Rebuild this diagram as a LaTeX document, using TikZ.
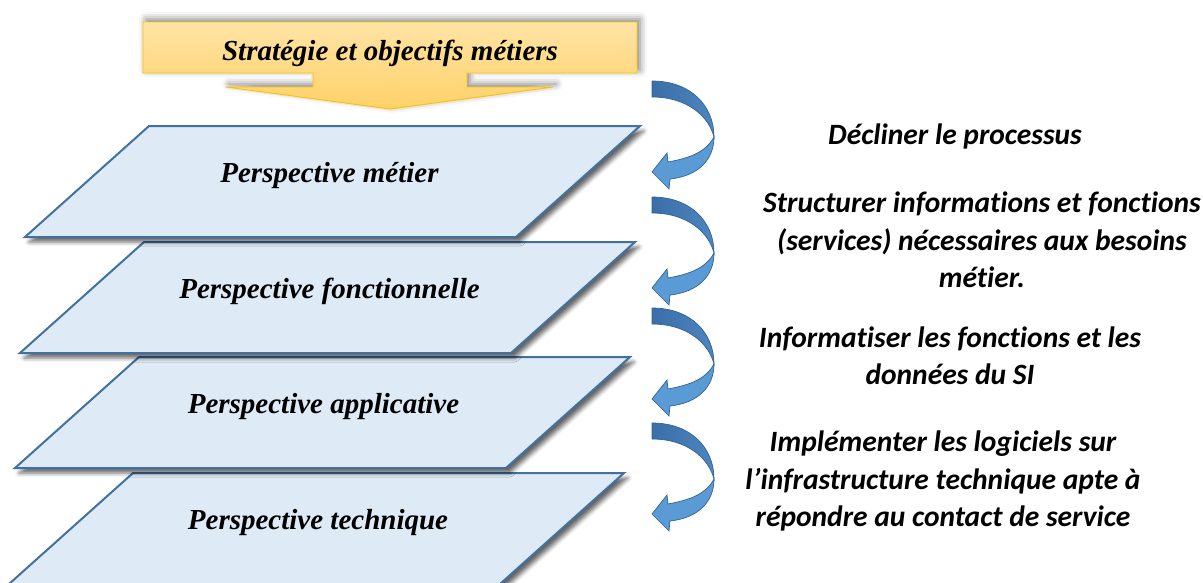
\documentclass[tikz,border=0pt]{standalone}
\usepackage{fontspec}
\setmainfont{Liberation Serif}
\newfontfamily\calib[Ligatures=NoCommon]{Carlito}
\usetikzlibrary{shadows.blur}

\definecolor{goldline}{RGB}{255,192,0}
\definecolor{goldtop}{RGB}{255,228,166}
\definecolor{goldbot}{RGB}{255,209,104}
\definecolor{planefill}{RGB}{222,234,246}
\definecolor{planeline}{RGB}{65,113,160}
\definecolor{arrowdark}{RGB}{58,110,168}
\definecolor{arrowmid}{RGB}{78,134,192}
\definecolor{arrowlight}{RGB}{91,155,213}
\definecolor{arrowline}{RGB}{50,98,148}

\tikzset{
  plane/.style={fill=planefill, draw=planeline, line width=2pt, line join=miter,
    blur shadow={shadow xshift=4pt, shadow yshift=-5pt, shadow blur radius=4pt, shadow opacity=60}},
  planetext/.style={font=\fontsize{29}{34}\selectfont\bfseries\itshape, anchor=base, inner sep=0pt},
  goal/.style={draw=goldline, line width=0.9pt, top color=goldtop, bottom color=goldbot,
    blur shadow={shadow xshift=3pt, shadow yshift=3pt, shadow blur radius=7pt, shadow opacity=50}},
  stepnote/.style={font=\calib\fontsize{29.5}{37.5}\selectfont\bfseries\itshape, align=center, inner sep=0pt},
  bendback/.style={draw=arrowline, line width=0.7pt, line join=miter, left color=arrowdark, right color=arrowmid},
  bendfront/.style={draw=arrowline, line width=0.7pt, line join=miter, fill=arrowlight}
}

\begin{document}
\begin{tikzpicture}[x=1pt,y=-1pt]
\useasboundingbox (0,0) rectangle (1203,582);

% stacked planes, lowest first so each upper plane casts its shadow on the next
\foreach \lx/\ty in {133/473, 139/357, 144/242, 149/126}{
  \path[plane] (\lx,\ty) -- ++(491,0) -- ++(-124,111) -- ++(-491,0) -- cycle;
}
\node[planetext] (pm) at (329.5,182) {Perspective métier};
\node[planetext] (pf) at (329.5,298) {Perspective fonctionnelle};
\node[planetext] (pa) at (323.5,413) {Perspective applicative};
\node[planetext] (pt) at (318,529) {Perspective technique};

% business goals block arrow
\path[goal] (143,22) -- (637,22) -- (637,73) -- (467,73) -- (467,87) -- (553,87)
  -- (390,109) -- (226,87) -- (313,87) -- (313,73) -- (143,73) -- cycle;
\node[planetext] (goals) at (390,60) {Stratégie et objectifs métiers};

% curved arrows between the layers
\foreach \dy in {0,116,227,342}{
  \begin{scope}[shift={(0,\dy)}]
    \path[bendback] (652,81) .. controls (691,81) and (714,106) .. (714,137)
      .. controls (709,117) and (688,97) .. (652,97) -- cycle;
    \path[bendfront] (714,137) .. controls (714,160) and (698,176) .. (670,179)
      -- (669,189) -- (652,172) -- (667,153) -- (668,162)
      .. controls (690,158) and (706,152) .. (714,137) -- cycle;
  \end{scope}
}

% descriptions of each step
\node[stepnote] (n1) at (955,136) {Décliner le processus};
\node[stepnote] (n2) at (982,240) {Structurer informations et fonctions\\(services) nécessaires aux besoins\\métier.};
\node[stepnote] (n3) at (950,356) {Informatiser les fonctions et les\\données du SI};
\node[stepnote] (n4) at (943,481) {Implémenter les logiciels sur\\l’infrastructure technique apte à\\répondre au contact de service};
\end{tikzpicture}
\end{document}
